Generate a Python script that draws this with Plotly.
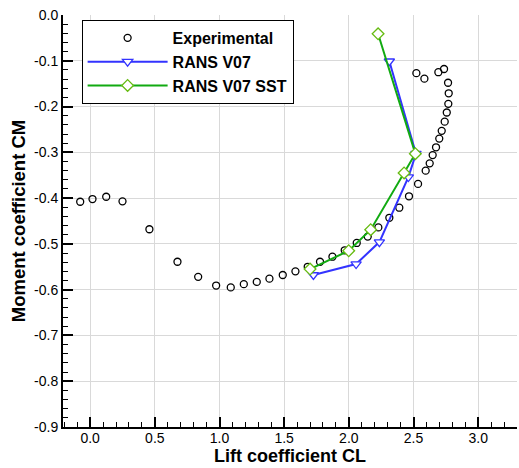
import plotly.graph_objects as go

# Experimental data (CL, CM)
exp_cl = [-0.077, 0.018, 0.124, 0.250, 0.458, 0.675, 0.835, 0.974, 1.087, 1.188, 1.288, 1.386,
          1.489, 1.587, 1.682, 1.777, 1.873, 1.968, 2.061, 2.146, 2.228, 2.313, 2.390, 2.465,
          2.535, 2.594, 2.625, 2.648, 2.674, 2.699, 2.718, 2.741, 2.757, 2.769, 2.772, 2.767,
          2.736, 2.692, 2.584, 2.522]
exp_cm = [-0.408, -0.402, -0.397, -0.407, -0.468, -0.539, -0.572, -0.591, -0.595, -0.588, -0.583, -0.576,
          -0.568, -0.560, -0.550, -0.539, -0.528, -0.514, -0.498, -0.484, -0.464, -0.443, -0.421, -0.396,
          -0.369, -0.340, -0.324, -0.306, -0.289, -0.270, -0.253, -0.233, -0.213, -0.194, -0.171, -0.148,
          -0.118, -0.125, -0.139, -0.127]

# RANS V07
v07_cl = [1.726, 2.056, 2.236, 2.460, 2.519, 2.313]
v07_cm = [-0.568, -0.544, -0.496, -0.354, -0.303, -0.101]

# RANS V07 SST
sst_cl = [1.700, 1.999, 2.169, 2.427, 2.514, 2.226]
sst_cm = [-0.555, -0.515, -0.469, -0.345, -0.303, -0.041]

x_ticks = [0.0, 0.5, 1.0, 1.5, 2.0, 2.5, 3.0]
x_labels = ["0.0", "0.5", "1.0", "1.5", "2.0", "2.5", "3.0"]
y_ticks = [0.0, -0.1, -0.2, -0.3, -0.4, -0.5, -0.6, -0.7, -0.8, -0.9]
y_labels = ["0.0", "-0.1", "-0.2", "-0.3", "-0.4", "-0.5", "-0.6", "-0.7", "-0.8", "-0.9"]

FONT = "Liberation Sans, Arial, Helvetica, sans-serif"

fig = go.Figure()
fig.add_trace(go.Scatter(
    x=exp_cl, y=exp_cm, mode="markers", name="Experimental",
    marker=dict(symbol="circle-open", size=7, color="black", line=dict(width=1.3, color="black")),
))
fig.add_trace(go.Scatter(
    x=v07_cl, y=v07_cm, mode="lines+markers", name="RANS V07",
    line=dict(color="#3333ff", width=2),
    marker=dict(symbol="triangle-down", size=9, color="white", line=dict(width=1.3, color="#3333ff")),
))
fig.add_trace(go.Scatter(
    x=sst_cl, y=sst_cm, mode="lines+markers", name="RANS V07 SST",
    line=dict(color="#11aa11", width=2),
    marker=dict(symbol="diamond", size=9, color="white", line=dict(width=1.3, color="#66bb11")),
))

axis_common = dict(
    showline=True, linecolor="black", linewidth=2,
    ticks="inside", ticklen=10, tickwidth=2, tickcolor="black",
    showgrid=True, gridcolor="#d9d9d9", gridwidth=1,
    zeroline=False, mirror=False,
    tickfont=dict(family=FONT, size=14, color="black"),
)

fig.update_layout(
    width=519, height=468,
    margin=dict(l=63, r=2, t=15, b=41),
    plot_bgcolor="white", paper_bgcolor="white",
    showlegend=True,
    legend=dict(
        x=0.041, y=0.988, xanchor="left", yanchor="top",
        bgcolor="white", bordercolor="black", borderwidth=1,
        font=dict(family=FONT, size=16, color="black", weight="bold"),
        itemwidth=80, tracegroupgap=0,
    ),
    xaxis=dict(
        range=[-0.21, 3.3], tickvals=x_ticks, ticktext=x_labels,
        ticklabelstandoff=-3,
        minor=dict(dtick=0.1, ticklen=5, tickwidth=1, tickcolor="black", ticks="inside", showgrid=False),
        title=dict(text="<b>Lift coefficient CL</b>", font=dict(family=FONT, size=18, color="black"), standoff=3),
        **axis_common,
    ),
    yaxis=dict(
        range=[-0.9, 0.0], tickvals=y_ticks, ticktext=y_labels,
        minor=dict(dtick=0.02, ticklen=5, tickwidth=1, tickcolor="black", ticks="inside", showgrid=False),
        title=dict(text="<b>Moment coefficient CM</b>", font=dict(family=FONT, size=18.5, color="black"), standoff=4),
        **axis_common,
    ),
)

fig.write_html("out.html")
